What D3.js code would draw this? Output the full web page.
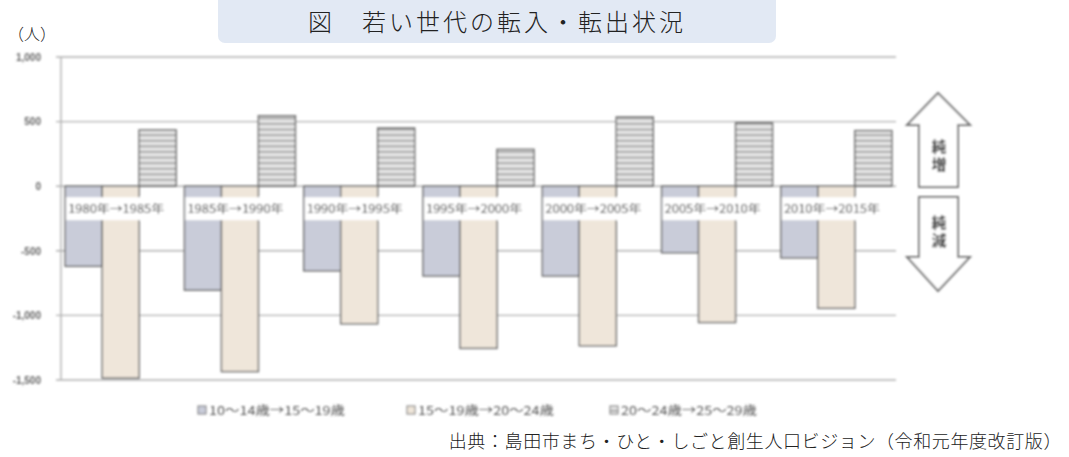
<!DOCTYPE html>
<html lang="ja">
<head>
<meta charset="utf-8">
<script src="https://cdn.jsdelivr.net/npm/d3@7"></script>
<style>
  html, body { margin: 0; padding: 0; background: #fff; }
  svg { display: block; font-family: "Noto Sans CJK JP", "Noto Sans", sans-serif; }
</style>
</head>
<body>
<svg id="chart" width="1069" height="457"></svg>
<script>
// 期間（国勢調査間の5年ごとの移動）
const periods = ["1980年→1985年", "1985年→1990年", "1990年→1995年", "1995年→2000年",
                 "2000年→2005年", "2005年→2010年", "2010年→2015年"];
// 年齢階級別の純移動数（人）
const age10to14 = [-620, -805, -655, -695, -695, -515, -555];
const age15to19 = [-1485, -1435, -1065, -1255, -1235, -1055, -945];
const age20to24 = [435, 545, 450, 285, 535, 490, 430];
const seriesNames = ["10～14歳→15～19歳", "15～19歳→20～24歳", "20～24歳→25～29歳"];
const yTicks = [1000, 500, 0, -500, -1000, -1500];
const yTickLabels = ["1,000", "500", "0", "-500", "-1,000", "-1,500"];

const svg = d3.select("#chart");
const defs = svg.append("defs");

// 横縞のハッチング
const pat = defs.append("pattern").attr("id", "hstripe")
  .attr("patternUnits", "userSpaceOnUse").attr("width", 8).attr("height", 5.6);
pat.append("rect").attr("width", 8).attr("height", 5.6).attr("fill", "#e4e4e4");
pat.append("rect").attr("y", 0).attr("width", 8).attr("height", 1.3).attr("fill", "#8a8a8a");

const blur = defs.append("filter").attr("id", "soft").attr("x", "-5%").attr("y", "-5%")
  .attr("width", "110%").attr("height", "110%");
blur.append("feGaussianBlur").attr("stdDeviation", 0.95);

// タイトル
svg.append("rect").attr("x", 218).attr("y", -8).attr("width", 558).attr("height", 51)
  .attr("rx", 7).attr("fill", "#e2e9f4");
svg.append("text").attr("x", 497).attr("y", 31).attr("text-anchor", "middle")
  .attr("font-size", 24).attr("font-weight", 300).attr("letter-spacing", 3).attr("fill", "#222")
  .text("図　若い世代の転入・転出状況");

// 単位
svg.append("text").attr("x", 8).attr("y", 40).attr("font-size", 16).attr("font-weight", 300)
  .attr("fill", "#222").text("（人）");

// 出典
svg.append("text").attr("x", 1062).attr("y", 448).attr("text-anchor", "end")
  .attr("font-size", 18).attr("font-weight", 300).attr("letter-spacing", 0.6).attr("fill", "#222")
  .text("出典：島田市まち・ひと・しごと創生人口ビジョン（令和元年度改訂版）");

const g = svg.append("g").attr("filter", "url(#soft)");

const x0 = 61, x1 = 896;
const x = d3.scaleBand().domain(periods).range([x0, x1]).paddingInner(0.07).paddingOuter(0.035);
const xs = d3.scaleBand().domain([0, 1, 2]).range([0, x.bandwidth()]);
const y = d3.scaleLinear().domain([-1500, 1000]).range([380, 57]);

// 目盛線
g.append("g").selectAll("line").data(yTicks).join("line")
  .attr("x1", x0 - 5).attr("x2", x1).attr("y1", d => y(d)).attr("y2", d => y(d))
  .attr("stroke", "#b0b0b0").attr("stroke-width", 1.4);
g.append("line").attr("x1", x0).attr("x2", x0).attr("y1", y(1000)).attr("y2", y(-1500))
  .attr("stroke", "#b0b0b0").attr("stroke-width", 1.4);

// Y軸ラベル
const yAxis = d3.axisLeft(y).tickValues(yTicks).tickSize(0).tickPadding(0)
  .tickFormat((d, i) => yTickLabels[i]);
const ya = g.append("g").attr("transform", `translate(${x0 - 20},0)`).call(yAxis);
ya.select(".domain").remove();
ya.selectAll("text").attr("font-size", 10).attr("fill", "#666").attr("font-weight", "bold")
  .attr("font-family", "'Liberation Sans', sans-serif");

// 棒
const series = [
  { values: age10to14, fill: "#c9ccd9" },
  { values: age15to19, fill: "#efe6da" },
  { values: age20to24, fill: "url(#hstripe)" }
];
series.forEach((s, si) => {
  g.append("g").selectAll("rect").data(periods).join("rect")
    .attr("x", d => x(d) + xs(si))
    .attr("width", xs.bandwidth())
    .attr("y", (d, i) => y(Math.max(0, s.values[i])))
    .attr("height", (d, i) => Math.abs(y(s.values[i]) - y(0)))
    .attr("fill", s.fill)
    .attr("stroke", "#6e6e6e").attr("stroke-width", 1.5);
});

// 期間ラベル（棒の上に白地で重ねる）
const lab = g.append("g").selectAll("g").data(periods).join("g")
  .attr("transform", d => `translate(${x(d)},0)`);
lab.append("rect").attr("x", 1).attr("y", y(0) + 11).attr("width", x.bandwidth() - 2).attr("height", 23)
  .attr("fill", "#fff");
lab.append("text").attr("x", 3).attr("y", y(0) + 27).attr("font-size", 11.5)
  .attr("fill", "#333").attr("textLength", 96).attr("lengthAdjust", "spacingAndGlyphs")
  .text(d => d);

// 純増・純減の矢印
const arrows = g.append("g").attr("fill", "#fff").attr("stroke", "#777").attr("stroke-width", 2);
arrows.append("path").attr("d", "M938,93 L970,125 L958,125 L958,187 L919,187 L919,125 L907,125 Z");
arrows.append("path").attr("d", "M919,197 L958,197 L958,257 L970,257 L938,291 L907,257 L919,257 Z");
const vt = (txt, cy) => g.append("text").attr("x", 939).attr("y", cy).attr("text-anchor", "middle")
  .attr("font-size", 15).attr("font-weight", "bold").attr("fill", "#333")
  .attr("letter-spacing", 3).style("writing-mode", "vertical-rl").text(txt);
vt("純増", 157);
vt("純減", 233);

// 凡例
const legX = [198, 407, 610];
const legFill = ["#c9ccd9", "#efe6da", "url(#hstripe)"];
const leg = g.append("g").selectAll("g").data(seriesNames).join("g")
  .attr("transform", (d, i) => `translate(${legX[i]},410)`);
leg.append("rect").attr("x", 0).attr("y", -4).attr("width", 8).attr("height", 8)
  .attr("fill", (d, i) => legFill[i]).attr("stroke", "#777").attr("stroke-width", 1);
leg.append("text").attr("x", 11).attr("y", 5).attr("font-size", 12).attr("fill", "#555")
  .attr("textLength", 136).attr("lengthAdjust", "spacingAndGlyphs")
  .text(d => d);
</script>
</body>
</html>
